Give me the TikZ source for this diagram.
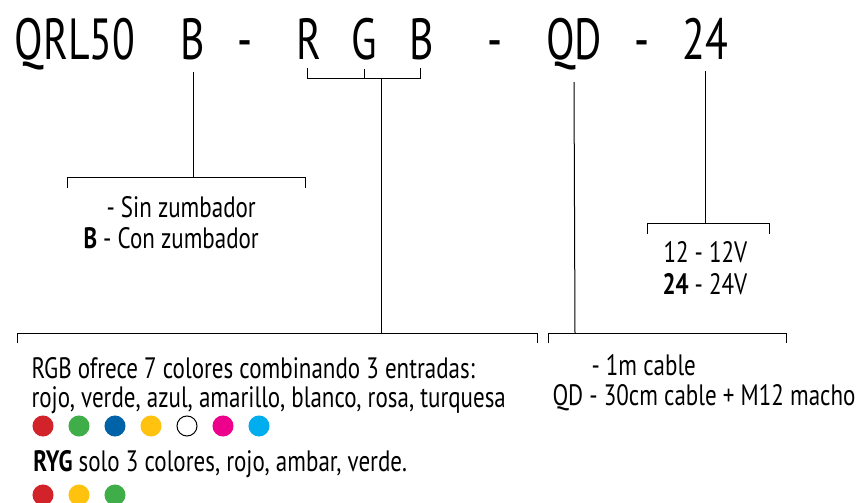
\documentclass[tikz,border=0pt]{standalone}
\usepackage{fontspec}
\setmainfont{PT Sans}[FakeStretch=0.72]
\newfontfamily\descfont{PT Sans}[FakeStretch=0.78]
\definecolor{rojo}{HTML}{D2232A}
\definecolor{verde}{HTML}{3FAE49}
\definecolor{azul}{HTML}{0062A7}
\definecolor{ambar}{HTML}{FFC20E}
\definecolor{rosa}{HTML}{EC008C}
\definecolor{turquesa}{HTML}{00AEEF}
\tikzset{
  code/.style={inner sep=0pt,anchor=base,font=\fontsize{58}{60}\selectfont},
  desc/.style={inner sep=0pt,anchor=base west,font=\descfont\fontsize{29.5}{31}\selectfont},
  led/.style={circle,inner sep=0pt,minimum size=20pt,fill=#1,draw=#1},
}
\begin{document}
\begin{tikzpicture}[x=1pt,y=-1pt,line width=1pt]
	\useasboundingbox (0,0) rectangle (863,503);
	%%Code
	\node[code] (qrl) at (75,60) {QRL50};
	\node[code] (zb) at (193,60) {B};
	\node[code] (d1) at (245,60) {-};
	\node[code] (cr) at (309,60) {R};
	\node[code] (cg) at (364,60) {G};
	\node[code] (cb) at (422,60) {B};
	\node[code] (d2) at (495,60) {-};
	\node[code] (qd) at (574,60) {QD};
	\node[code] (d3) at (642,60) {-};
	\node[code] (volt) at (705,60) {24};
	
	%%Brackets
	\coordinate (zl) at (67,177);
	\coordinate (zr) at (305,177);
	\coordinate (rgbl) at (307,79);
	\coordinate (rgbr) at (420,79);
	\coordinate (rgbs) at (381,79);
	\coordinate (cl) at (17,333);
	\coordinate (cm) at (381,333);
	\coordinate (cr2) at (537,333);
	\coordinate (ql) at (548,333);
	\coordinate (qm) at (575,333);
	\coordinate (qr) at (786,333);
	\coordinate (vl) at (647,223);
	\coordinate (vm) at (705,223);
	\coordinate (vr) at (769,223);
	
	%%Buzzer
	\draw ([yshift=-11pt]zb.south) -- (zb.south |- zl);
	\draw (zl) ++(0,11) -- (zl) -- (zr) -- ++(0,11);
	%%Colours
	\draw (rgbl) ++(0,-11) -- (rgbl) -- (rgbr) -- ++(0,-11);
	\draw ([yshift=-8pt]cg.south) -- (cg.south |- rgbl);
	\draw (rgbs) -- (cm);
	\draw (cl) ++(0,10) -- (cl) -- (cr2) -- ++(0,10);
	%%Cable
	\draw ([yshift=-11pt]qd.south) -- (qm);
	\draw (ql) ++(0,10) -- (ql) -- (qr) -- ++(0,10);
	%%Voltage
	\draw ([yshift=-11pt]volt.south) -- (vm);
	\draw (vl) ++(0,11) -- (vl) -- (vr) -- ++(0,11);
	
	%%Label
	\node[desc] (sin) at (106,217) {- Sin zumbador};
	\node[desc] (con) at (83,248) {\textbf{B} - Con zumbador};
	\node[desc] (v12) at (663,262) {12 - 12V};
	\node[desc] (v24) at (662,294) {\textbf{24} - 24V};
	\node[desc] (rgba) at (31,378) {RGB ofrece 7 colores combinando 3 entradas:};
	\node[desc] (rgbb) at (31,407) {rojo, verde, azul, amarillo, blanco, rosa, turquesa};
	\node[desc] (caba) at (591,375) {- 1m cable};
	\node[desc] (cabb) at (552,405) {QD - 30cm cable + M12 macho};
	\node[desc] (ryg) at (33,471) {\textbf{RYG} solo 3 colores, rojo, ambar, verde.};
	
	%%Dots
	\foreach \c/\d [count=\i] in {rojo/rojo,verde/verde,azul/azul,ambar/ambar,white/black,rosa/rosa,turquesa/turquesa}
	  \node[led=\c,draw=\d] (rgb\i) at ({43+36*(\i-1)},426) {};
	\foreach \c [count=\i] in {rojo,ambar,verde}
	  \node[led=\c] (ryg\i) at ({43+36*(\i-1)},495) {};
\end{tikzpicture}
\end{document}
